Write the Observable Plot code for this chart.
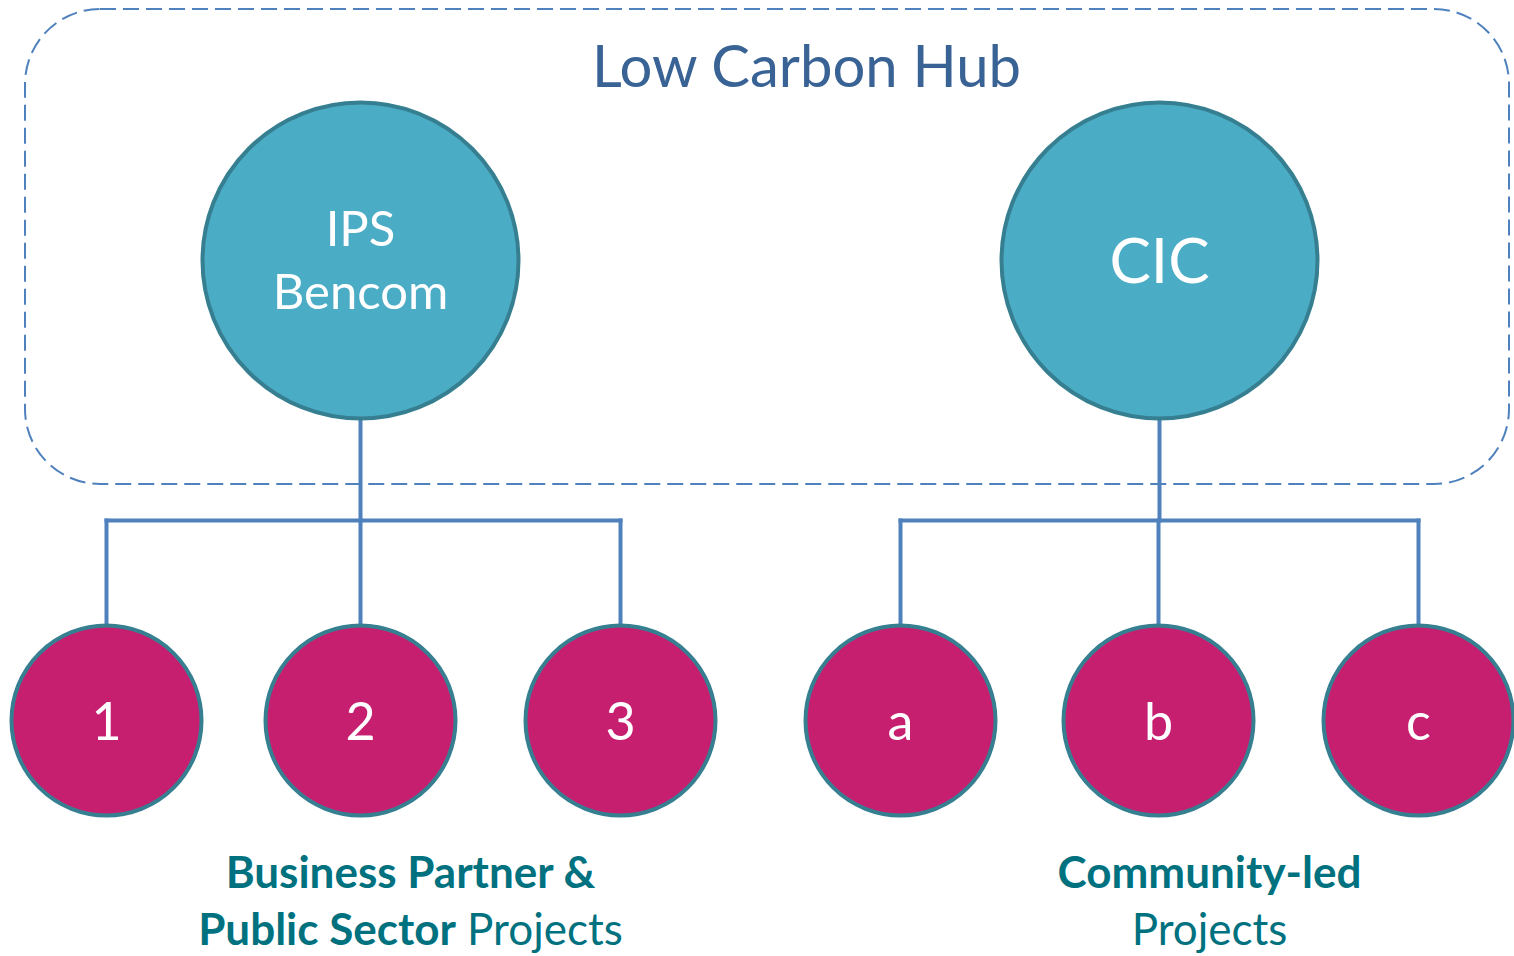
<!DOCTYPE html>
<html>
<head>
<meta charset="utf-8">
<script src="https://cdn.jsdelivr.net/npm/d3@7"></script>
<script src="https://cdn.jsdelivr.net/npm/@observablehq/plot@0.6"></script>
<style>
  html, body { margin: 0; padding: 0; background: #fff; }
  #chart svg { display: block; }
</style>
</head>
<body>
<div id="chart"></div>
<script>
// ---- data ----
const title = "Low Carbon Hub";
const parentLabels = ["IPS\nBencom", "CIC"];
const parentX = [360, 1159];
const parentY = 260;
const childLabels = ["1", "2", "3", "a", "b", "c"];
const childX = [106, 360, 620, 900, 1158, 1418];
const childParent = [0, 0, 0, 1, 1, 1];
const childY = 720;
const groupLabelsBold = ["Business Partner &", "Community-led"];
const groupLabelsSecond = ["Public Sector Projects", "Projects"];
const groupX = [410, 1209];

// ---- geometry constants (styling) ----
const W = 1514, H = 956;
const bigR = 158, smallR = 95, busY = 520;
const FONT = "Lato, 'Open Sans', sans-serif";

const parents = parentLabels.map((label, i) => ({label, x: parentX[i], y: parentY}));
const children = childLabels.map((label, i) => ({label, x: childX[i], y: childY, p: childParent[i]}));

const links = [];
parents.forEach((p, i) => {
  const kids = children.filter(c => c.p === i);
  links.push({x1: p.x, y1: p.y + bigR, x2: p.x, y2: busY});
  links.push({x1: d3.min(kids, c => c.x), y1: busY, x2: d3.max(kids, c => c.x), y2: busY});
  kids.forEach(c => links.push({x1: c.x, y1: busY, x2: c.x, y2: c.y - smallR}));
});

const chart = Plot.plot({
  width: W,
  height: H,
  margin: 0,
  x: {domain: [0, W], range: [0, W], axis: null},
  y: {domain: [0, H], range: [0, H], axis: null},
  r: {type: "identity"},
  style: {background: "#ffffff", fontFamily: FONT},
  marks: [
    Plot.rect([{x1: 25, x2: 1509, y1: 9, y2: 484}], {
      x1: "x1", x2: "x2", y1: "y1", y2: "y2", rx: 75,
      fill: "none", stroke: "#4f81bd", strokeWidth: 2, strokeDasharray: "16,7"
    }),
    Plot.text([title], {x: () => 806, y: () => 68, text: d => d, fill: "#3a6395",
      fontSize: 58, fontFamily: FONT, textAnchor: "middle", lineAnchor: "middle"}),
    Plot.link(links, {x1: "x1", y1: "y1", x2: "x2", y2: "y2", stroke: "#4f81bd", strokeWidth: 4, strokeLinecap: "square"}),
    Plot.dot(parents, {x: "x", y: "y", r: () => bigR, fill: "#4bacc6", stroke: "#367f91", strokeWidth: 4}),
    Plot.dot(children, {x: "x", y: "y", r: () => smallR, fill: "#c71f70", stroke: "#367f91", strokeWidth: 4}),
    Plot.text(parents.filter(d => d.label.includes("\n")), {x: "x", y: "y", text: "label", fill: "white",
      fontSize: 49, lineHeight: 1.29, fontFamily: FONT, lineAnchor: "middle", dy: -3}),
    Plot.text(parents.filter(d => !d.label.includes("\n")), {x: "x", y: "y", text: "label", fill: "white",
      fontSize: 62, fontFamily: FONT, lineAnchor: "middle", dy: 3}),
    Plot.text(children, {x: "x", y: "y", text: "label", fill: "white", fontSize: 52, fontFamily: FONT, lineAnchor: "middle", dy: 3}),
    Plot.text(groupLabelsBold, {x: (d, i) => groupX[i], y: () => 873, text: d => d, fill: "#00717f",
      fontSize: 44, fontWeight: "bold", fontFamily: FONT, lineAnchor: "middle"}),
    Plot.text(groupLabelsSecond, {x: (d, i) => groupX[i], y: () => 930, text: d => d, fill: "#00717f",
      fontSize: 44, fontFamily: FONT, lineAnchor: "middle", className: "second-line"})
  ]
});

// Bold "Public Sector" inside the mixed-weight second line
d3.select(chart).selectAll(".second-line text").each(function() {
  const t = this.textContent;
  if (t.startsWith("Public Sector")) {
    const sel = d3.select(this);
    sel.text(null);
    sel.append("tspan").attr("font-weight", "bold").text("Public Sector");
    sel.append("tspan").text(" Projects");
  }
});

document.getElementById("chart").appendChild(chart);
</script>
</body>
</html>
